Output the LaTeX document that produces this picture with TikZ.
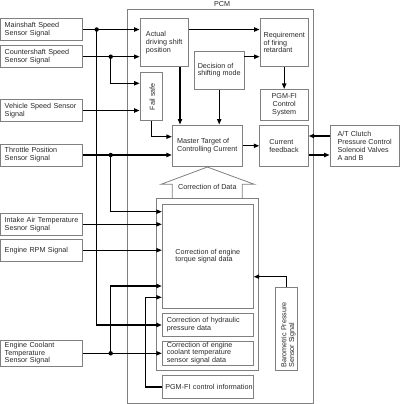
\documentclass[tikz,border=0pt]{standalone}
\usepackage{fontspec}
\setmainfont{Liberation Sans}
\usepackage{graphicx}
\usetikzlibrary{arrows.meta,calc}
\definecolor{boxgray}{RGB}{128,128,128}
\definecolor{txt}{RGB}{40,40,40}
\begin{document}
\begin{tikzpicture}[x=1pt,y=-1pt,
  box/.style={draw=boxgray, line width=0.8pt, inner sep=0pt, font=\fontsize{7.2}{7.8}\selectfont, align=left, text=txt},
  lb/.style={box, text width=74pt, inner xsep=4pt, minimum width=82pt},
  conn/.style={draw=black, line width=1.25pt, -{Triangle[length=5.5pt,width=4.2pt]}},
  dot/.style={circle, fill=black, inner sep=0pt, minimum size=4.4pt}]
\useasboundingbox (0,0) rectangle (400,404);

% PCM frame
\node[draw=boxgray, line width=0.8pt, minimum width=186pt, minimum height=394pt, inner sep=0pt] (pcm) at (220.7,206) {};
\node[font=\fontsize{7.2}{7.8}\selectfont, text=txt] (pcmlabel) at (222,4) {PCM};

% left inputs
\node[lb, minimum height=22.4pt] (ms) at (41.7,29.5) {Mainshaft Speed\\Sensor Signal};
\node[lb, minimum height=22pt] (cs) at (41.7,56.7) {Countershaft Speed\\Sensor Signal};
\node[lb, minimum height=22.4pt] (vs) at (41.7,110.5) {Vehicle Speed Sensor\\Signal};
\node[lb, minimum height=22pt] (tp) at (41.7,155) {Throttle Position\\Sensor Signal};
\node[lb, minimum height=22pt] (ia) at (41.7,224.3) {Intake Air Temperature\\Sesnor Signal};
\node[lb, minimum height=21.7pt] (rpm) at (41.7,250.2) {Engine RPM Signal};
\node[lb, minimum height=26.7pt] (ec) at (41.7,353.3) {Engine Coolant\\Temperature\\Sensor Signal};

% internal boxes
\node[box, minimum width=48.3pt, minimum height=48.4pt] (adsp) at (164.2,42.5) {Actual\\driving shift\\position};
\node[box, minimum width=48.3pt, minimum height=48.4pt] (req) at (284.2,42.5) {Requirement\\of firing\\retardant};
\node[box, minimum width=49.7pt, minimum height=38.3pt] (dec) at (219.2,70.2) {Decision of\\shifting mode};
\node[box, align=center, minimum width=48.3pt, minimum height=30.7pt] (pgm) at (284.2,104.7) {PGM-FI\\Control\\System};
\node[box, minimum width=22.3pt, minimum height=48pt] (fs) at (151.2,96.7) {\hspace*{2pt}\rotatebox{90}{Fail safe}};
\node[box, minimum width=70pt, minimum height=41.7pt] (mt) at (207.3,145.8) {Master Target of\\Controlling Current};
\node[box, minimum width=48.6pt, minimum height=41.7pt] (cf) at (284,145.8) {Current\\feedback};
\node[box, minimum width=69.3pt, minimum height=41.7pt] (atc) at (364.7,145.8) {A/T Clutch\\Pressure Control\\Solenoid Valves\\A and B};

% correction group
\node[box, minimum width=102pt, minimum height=171.7pt] (grp) at (207.7,284.2) {};
\node[box, minimum width=91pt, minimum height=104.3pt] (tq) at (207.8,256.2) {Correction of engine\\torque signal data};
\node[box, text width=82pt, inner xsep=4.5pt, minimum height=23.4pt] (hyd) at (207.8,325) {Correction of hydraulic\\pressure data};
\node[box, text width=82pt, inner xsep=4.5pt, minimum height=24pt] (cool) at (207.8,353) {Correction of engine\\coolant temperature\\sensor signal data};
\node[box, text width=85pt, inner xsep=3pt, minimum height=22.6pt] (pgmi) at (207.8,387) {\mbox{PGM-FI control information}};
\node[box, minimum width=22.7pt, minimum height=82.7pt] (baro) at (286.3,328.7) {\hspace*{4pt}\rotatebox{90}{\parbox{78pt}{\raggedright Barometric Pressure\\Sensor Signal}}};

% hollow arrow "Correction of Data"
\draw[draw=boxgray, line width=0.8pt] (172.3,198.3) -- (172.3,184.3) -- (161,184.3) -- (mt.south) -- (254.3,184.3) -- (242.3,184.3) -- (242.3,198.3);
\node[font=\fontsize{7.2}{7.8}\selectfont, text=txt] (cod) at (207.3,187) {Correction of Data};

% junctions
\coordinate (j1) at (96.7,29.5);
\coordinate (j2) at (110.7,56.7);
\coordinate (j3) at (110.7,155);
\coordinate (j4) at (110.7,353.3);
\coordinate (fsy) at (0,83.3);
\coordinate (tqy1) at (0,211.7);
\coordinate (tqy2) at (0,286);
\coordinate (pgx) at (145.7,297.3);
\coordinate (xa) at (180,0);
\coordinate (fsb) at (0,136.7);
\coordinate (ya) at (0,136);
\coordinate (yb) at (0,155);
\coordinate (by) at (0,276.7);

% connectors
\draw[conn] (ms.east) -- (ms.east -| adsp.west);
\draw[conn] (j1) |- (hyd.west);
\draw[conn] (cs.east) -- (cs.east -| adsp.west);
\draw[conn] (j2) |- (fs.west |- fsy);
\draw[conn] (vs.east) -- (vs.east -| fs.west);
\draw[conn] (tp.east) -- (tp.east -| mt.west);
\draw[conn] (j3) |- (tq.west |- tqy1);
\draw[conn] (ia.east) -- (ia.east -| tq.west);
\draw[conn] (rpm.east) -- (rpm.east -| tq.west);
\draw[conn] (ec.east) -- (ec.east -| cool.west);
\draw[conn] (j4) |- (tq.west |- tqy2);
\draw[conn] (pgmi.west) -| (pgx) -- (tq.west |- pgx);
\draw[conn] (adsp.east |- ms.east) -- (req.west |- ms.east);
\draw[conn] (dec.east |- cs.east) -- (req.west |- cs.east);
\draw[conn] (adsp.south -| xa) -- (mt.north -| xa);
\draw[conn] (dec.south) -- (dec.south |- mt.north);
\draw[conn] (fs.south) |- (mt.west |- fsb);
\draw[conn] (req.south) -- (pgm.north);
\draw[conn] (mt.east) -- (mt.east -| cf.west);
\draw[conn] (atc.west |- ya) -- (cf.east |- ya);
\draw[conn] (cf.east |- yb) -- (atc.west |- yb);
\draw[conn] (baro.north) |- (tq.east |- by);

% dots
\node[dot] (d1) at (j1) {};
\node[dot] (d2) at (j2) {};
\node[dot] (d3) at (j3) {};
\node[dot] (d4) at (j4) {};
\end{tikzpicture}
\end{document}
